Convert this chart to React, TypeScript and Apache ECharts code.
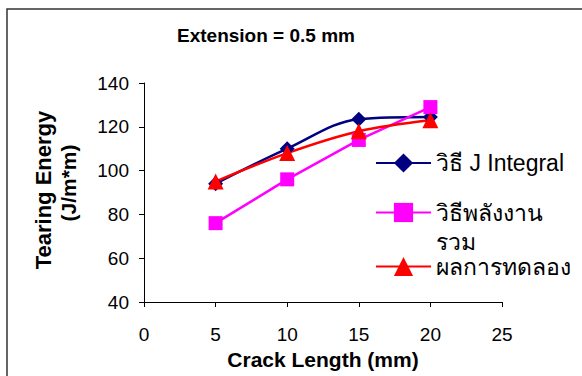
import React, { useEffect, useRef } from "react";
import * as echarts from "echarts";

const crackLength = [5, 10, 15, 20];
const jIntegral = [94, 110, 123.5, 124.5];
const energyMethod = [76, 96, 114, 129];
const experiment = [95, 108, 118, 123];
const seriesNames = ["วิธี J Integral", "วิธีพลังงาน\nรวม", "ผลการทดลอง"];
const titleText = "Extension = 0.5 mm";
const xName = "Crack Length (mm)";
const yName1 = "Tearing Energy";
const yName2 = "(J/m*m)";

const FONT = "Arial, 'Liberation Sans', sans-serif";

export default function App() {
  const ref = useRef<HTMLDivElement>(null);
  useEffect(() => {
    if (!ref.current) return;
    const chart = echarts.init(ref.current, undefined, { renderer: "svg" });
    const mk = (name: string, data: number[], color: string, symbol: string, size: number, smooth: boolean) => ({
      type: "line",
      name,
      data: crackLength.map((x, i) => [x, data[i]]),
      smooth: smooth ? 0.35 : false,
      symbol,
      symbolSize: size,
      lineStyle: { color, width: 2.5 },
      itemStyle: { color },
      z: 3,
    });
    const legendTops = [143, 164, 250];
    const legendLineHeights = [30, 29, 20];
    chart.setOption({
      animation: false,
      backgroundColor: "#fff",
      textStyle: { fontFamily: FONT },
      grid: { left: 144, top: 83, width: 358, height: 219, containLabel: false },
      xAxis: {
        type: "value",
        min: 0,
        max: 25,
        interval: 5,
        axisLine: { lineStyle: { color: "#000", width: 1 } },
        axisTick: { show: true, length: 5, inside: false, lineStyle: { color: "#000" } },
        axisLabel: { color: "#000", fontSize: 19, margin: 23, fontFamily: FONT },
        splitLine: { show: false },
      },
      yAxis: {
        type: "value",
        min: 40,
        max: 140,
        interval: 20,
        axisLine: { show: true, lineStyle: { color: "#000", width: 1 } },
        axisTick: { show: true, length: 5, inside: false, lineStyle: { color: "#000" } },
        axisLabel: { color: "#000", fontSize: 19, margin: 15, fontFamily: FONT },
        splitLine: { show: false },
      },
      legend: seriesNames.map((n, i) => ({
        data: [n],
        left: 370,
        top: legendTops[i],
        itemWidth: 55,
        itemHeight: 24,
        itemGap: 0,
        formatter: (name: string) => (name.indexOf("\n") >= 0 ? " \n" + name : name),
        textStyle: {
          fontSize: 23,
          color: "#000",
          fontFamily: FONT,
          lineHeight: legendLineHeights[i],
        },
        selectedMode: false,
      })),
      graphic: [
        {
          type: "rect",
          shape: { x: 7, y: 9, width: 700, height: 500 },
          style: { fill: "none", stroke: "#333", lineWidth: 1.5 },
          silent: true,
        },
        {
          type: "text",
          x: 266,
          y: 35,
          style: { text: titleText, font: `bold 19px ${FONT}`, fill: "#000", textAlign: "center", textVerticalAlign: "middle" },
        },
        {
          type: "text",
          x: 323,
          y: 359,
          style: { text: xName, font: `bold 21px ${FONT}`, fill: "#000", textAlign: "center", textVerticalAlign: "middle" },
        },
        {
          type: "text",
          x: 43,
          y: 190,
          rotation: Math.PI / 2,
          style: { text: yName1, font: `bold 22px ${FONT}`, fill: "#000", textAlign: "center", textVerticalAlign: "middle" },
        },
        {
          type: "text",
          x: 68,
          y: 183,
          rotation: Math.PI / 2,
          style: { text: yName2, font: `bold 21px ${FONT}`, fill: "#000", textAlign: "center", textVerticalAlign: "middle" },
        },
      ],
      series: [
        mk(seriesNames[0], jIntegral, "#000080", "diamond", 15, true),
        mk(seriesNames[1], energyMethod, "#FF00FF", "rect", 14, false),
        mk(seriesNames[2], experiment, "#FF0000", "triangle", 16, true),
      ],
    });
    return () => chart.dispose();
  }, []);
  return <div ref={ref} style={{ width: 582, height: 376, position: "absolute", left: 0, top: 0 }} />;
}
